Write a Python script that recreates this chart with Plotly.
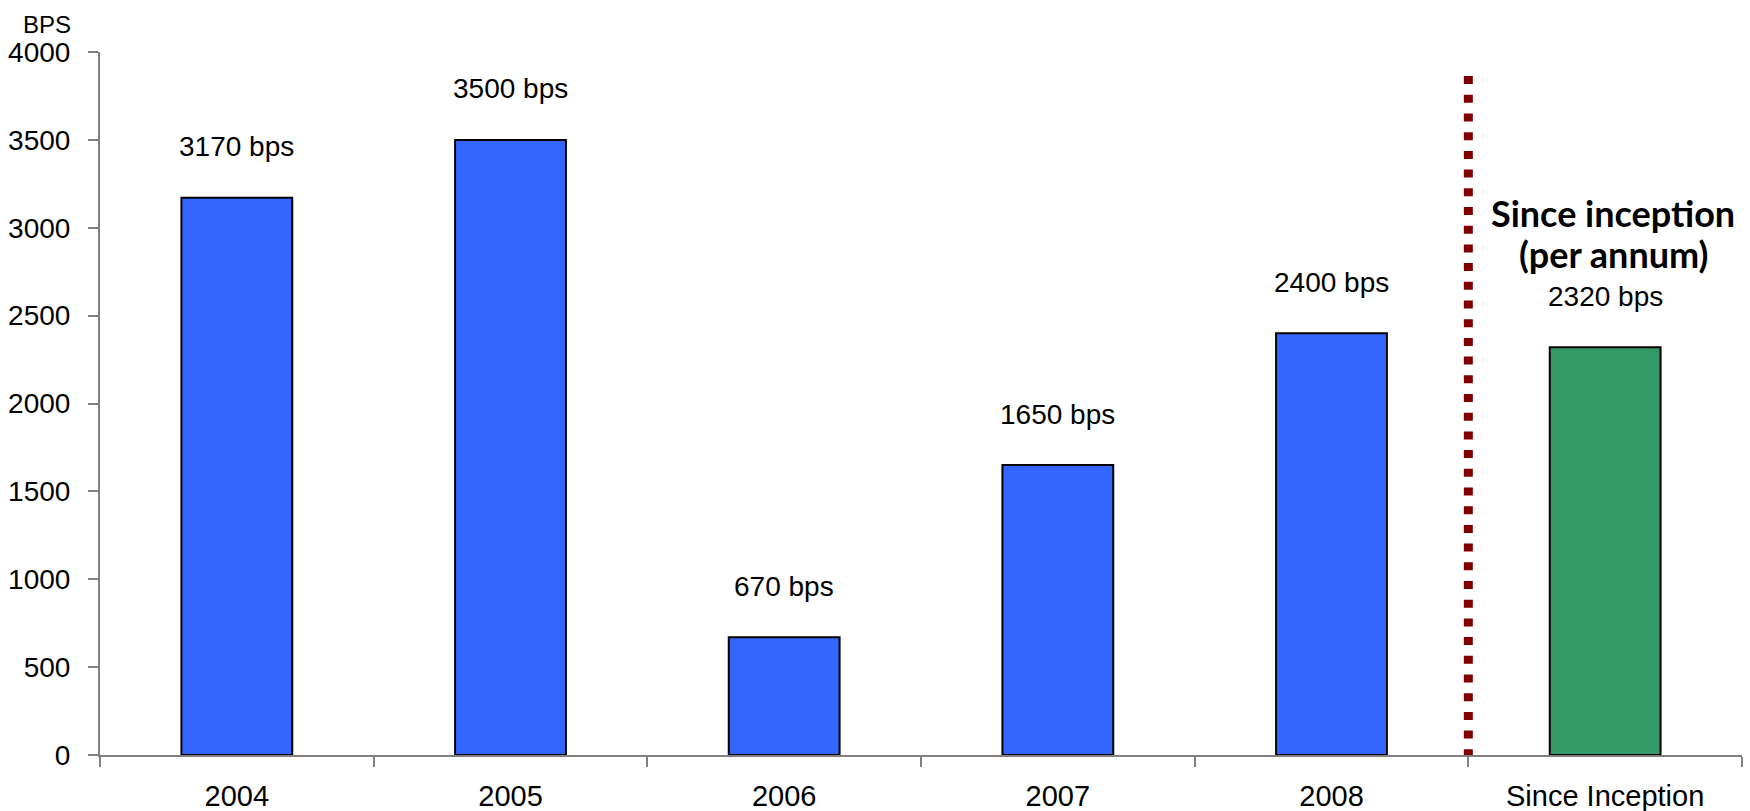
import plotly.graph_objects as go

categories = ["2004", "2005", "2006", "2007", "2008", "Since Inception"]
values = [3170, 3500, 670, 1650, 2400, 2320]
labels = ["3170 bps", "3500 bps", "670 bps", "1650 bps", "2400 bps", "2320 bps"]
bar_colors = ["#3366FF", "#3366FF", "#3366FF", "#3366FF", "#3366FF", "#339966"]
y_ticks = [0, 500, 1000, 1500, 2000, 2500, 3000, 3500, 4000]
note_lines = ["Since inception", "(per annum)"]
divider_top = 3863

FONT = "Liberation Sans, Arial, sans-serif"

fig = go.Figure()
fig.add_trace(go.Bar(
    x=categories, y=values, width=0.405,
    marker=dict(color=bar_colors, line=dict(color="black", width=2)),
    hoverinfo="skip", showlegend=False,
))

for i, (v, t) in enumerate(zip(values, labels)):
    fig.add_annotation(x=i, y=v, text=t, showarrow=False, yanchor="middle",
                       yshift=51, font=dict(family=FONT, size=28, color="black"))

for k, line in enumerate(note_lines):
    fig.add_annotation(x=5, y=values[5], text=line, showarrow=False,
                       yanchor="middle", yshift=134 - 41 * k, xshift=8,
                       font=dict(family="Lato, sans-serif", size=36, color="black",
                                 weight="bold"))

fig.add_annotation(xref="paper", yref="paper", x=-0.032, y=1.0, yshift=28,
                   text="BPS", showarrow=False, xanchor="center", yanchor="middle",
                   font=dict(family=FONT, size=24, color="black"))

fig.add_shape(type="line", xref="x", yref="y", x0=4.5, x1=4.5, y0=divider_top, y1=0,
              line=dict(color="#800000", width=9, dash="8px,10.7px"))

fig.update_layout(
    width=1750, height=811,
    margin=dict(l=100, r=8, t=52, b=56),
    paper_bgcolor="white", plot_bgcolor="white",
    font=dict(family=FONT, size=28, color="black"),
    bargap=0.595,
    xaxis=dict(
        type="category", showline=True, linecolor="#808080", linewidth=2,
        ticks="outside", ticklen=10, tickwidth=1.5, tickcolor="#808080",
        tickson="boundaries", showgrid=False, zeroline=False, automargin=False,
        tickfont=dict(family=FONT, size=29, color="black"),
        range=[-0.5, 5.5], ticklabelstandoff=14,
    ),
    yaxis=dict(
        range=[0, 4000], tickvals=y_ticks, showline=True, linecolor="#808080",
        linewidth=2, ticks="outside", ticklen=10, tickwidth=1.5, tickcolor="#808080",
        showgrid=False, zeroline=False, ticklabelstandoff=12, automargin=False,
        tickfont=dict(family=FONT, size=28, color="black"),
    ),
)

fig.write_html("out.html")
